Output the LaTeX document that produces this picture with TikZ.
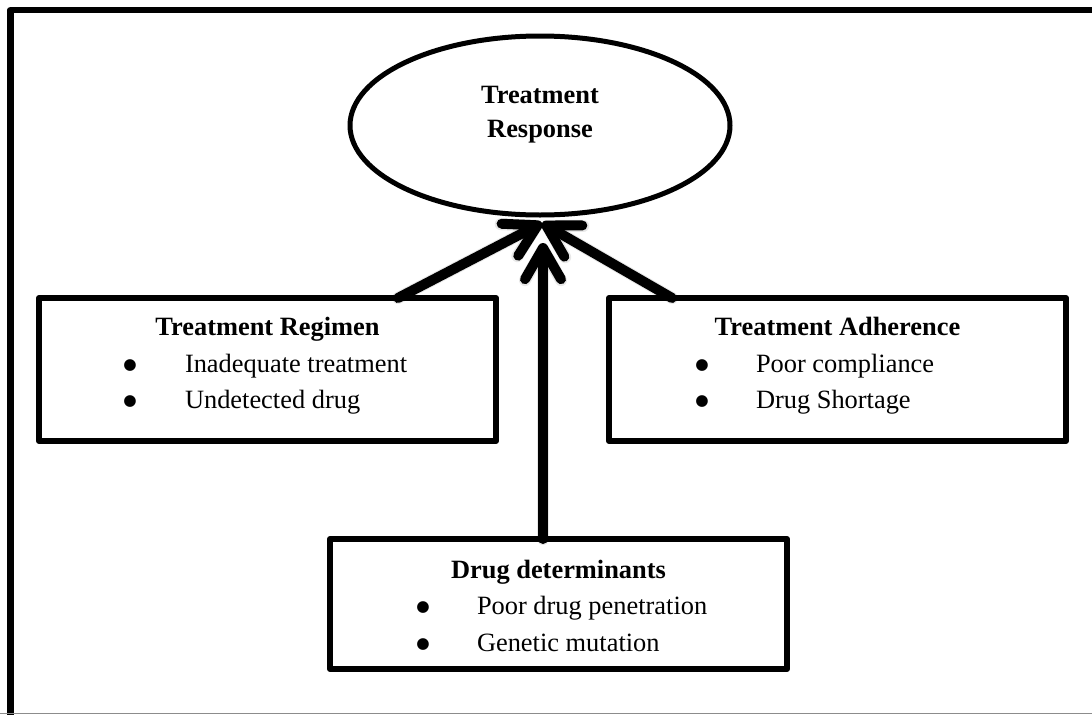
\documentclass[tikz,border=0pt]{standalone}
\usepackage{fontspec}
\setmainfont{Liberation Serif}
\newfontfamily\symbolfont{DejaVu Sans}
\usetikzlibrary{arrows.meta,calc,shapes.geometric}

\begin{document}
\begin{tikzpicture}[x=0.75pt,y=-0.75pt,
  every node/.style={font=\fontsize{19.8pt}{24pt}\selectfont, inner sep=0pt, outer sep=0pt},
  framebox/.style={draw, rectangle, line width=4.5pt, line join=round, minimum width=342.75pt},
  heading/.style={font=\fontsize{19.8pt}{24pt}\selectfont\bfseries, anchor=base},
  bulletmark/.style={anchor=base, yshift=2.2pt, font=\symbolfont\fontsize{11.5pt}{14pt}\selectfont},
  itemtext/.style={anchor=base west},
  link/.style={line width=7.5pt, line cap=round, -{Straight Barb[angle=60:27pt, round]}},
  linkshadow/.style={line width=9pt, line cap=round, draw=black, opacity=0.09, -{Straight Barb[angle=60:27pt, round]}},
]
\useasboundingbox (0,0) rectangle (1092,714);

% outer frame (left and top edges)
\draw[line width=4.9pt, line join=round] (10.5,716) -- (10.5,10) -- (1094,10);
\draw[black!45, line width=0.75pt] (0,713.5) -- (1092,713.5);

% central outcome
\node[draw, ellipse, line width=3.75pt, minimum width=285pt, minimum height=134.25pt] (resp) at (540,125.5) {};
\node[heading] (respA) at (540,103) {Treatment};
\node[heading] (respB) at (540,137) {Response};

% factor boxes
\node[framebox, minimum height=107.25pt] (lbox) at (267.5,369.5) {};
\node[framebox, minimum height=107.25pt] (rbox) at (837.5,369.5) {};
\node[framebox, minimum height=97.5pt] (bbox) at (558.5,604) {};

% Treatment Regimen
\node[heading] (lhead) at (267.5,335) {Treatment Regimen};
\node[bulletmark] (lb1) at (130,372) {●};
\node[itemtext] (li1) at (185,372) {Inadequate treatment};
\node[bulletmark] (lb2) at (130,408) {●};
\node[itemtext] (li2) at (185,408) {Undetected drug};

% Treatment Adherence
\node[heading] (rhead) at (837.5,335) {Treatment Adherence};
\node[bulletmark] (rb1) at (702,372) {●};
\node[itemtext] (ri1) at (756,372) {Poor compliance};
\node[bulletmark] (rb2) at (702,408) {●};
\node[itemtext] (ri2) at (756,408) {Drug Shortage};

% Drug determinants
\node[heading] (bhead) at (558.5,578) {Drug determinants};
\node[bulletmark] (bb1) at (423,614) {●};
\node[itemtext] (bi1) at (477,614) {Poor drug penetration};
\node[bulletmark] (bb2) at (423,651) {●};
\node[itemtext] (bi2) at (477,651) {Genetic mutation};

% soft shadows under the arrows
\begin{scope}[shift={(3,4)}]
\draw[linkshadow] ($(lbox.north)+(130.5,0)$) -- ($(resp.south)+(2,8)$);
\draw[linkshadow] ($(rbox.north)+(-165.5,0)$) -- ($(resp.south)+(2,8)$);
\draw[linkshadow] ($(bbox.north)+(-15.5,0)$) -- ($(resp.south)+(3,28)$);
\end{scope}

% arrows into the outcome
\draw[link] ($(lbox.north)+(130.5,0)$) -- ($(resp.south)+(2,8)$);
\draw[link] ($(rbox.north)+(-165.5,0)$) -- ($(resp.south)+(2,8)$);
\draw[link] ($(bbox.north)+(-15.5,0)$) -- ($(resp.south)+(3,28)$);
\end{tikzpicture}
\end{document}
